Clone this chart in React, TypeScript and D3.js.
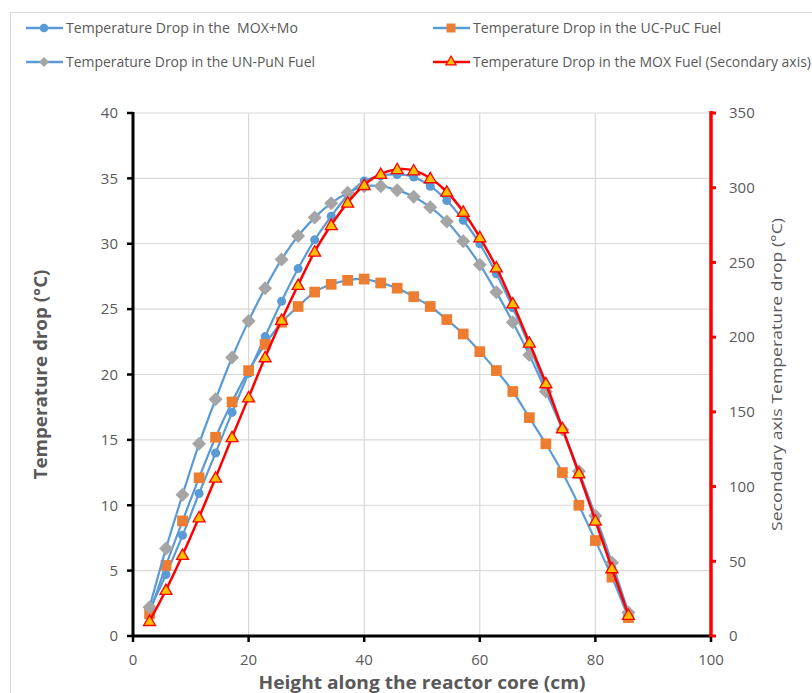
import { useEffect, useRef } from 'react';
import * as d3 from 'd3';

// heights along the core (cm)
const heights = [
  2.86, 5.71, 8.57, 11.43, 14.29, 17.14, 20.0, 22.86, 25.71, 28.57, 31.43, 34.29, 37.14, 40.0, 42.86,
  45.71, 48.57, 51.43, 54.29, 57.14, 60.0, 62.86, 65.71, 68.57, 71.43, 74.29, 77.14, 80.0, 82.86, 85.71,
];

const moxMo = [
  2.0, 4.7, 7.7, 10.9, 14.0, 17.1, 20.1, 22.9, 25.6, 28.1, 30.3, 32.1, 33.7, 34.8, 35.2,
  35.3, 35.1, 34.4, 33.3, 31.8, 30.0, 27.7, 25.1, 22.2, 19.0, 15.8, 12.4, 8.9, 5.2, 1.6,
];

const ucPuc = [
  1.7, 5.4, 8.8, 12.1, 15.2, 17.9, 20.3, 22.3, 24.0, 25.2, 26.3, 26.9, 27.2, 27.3, 27.0,
  26.6, 25.95, 25.2, 24.2, 23.1, 21.75, 20.3, 18.7, 16.7, 14.7, 12.5, 10.0, 7.3, 4.5, 1.4,
];

const unPun = [
  2.2, 6.7, 10.8, 14.7, 18.1, 21.3, 24.1, 26.6, 28.8, 30.6, 32.0, 33.1, 33.9, 34.4, 34.4,
  34.1, 33.6, 32.8, 31.7, 30.2, 28.4, 26.3, 24.0, 21.5, 18.7, 15.8, 12.6, 9.2, 5.6, 1.8,
];

// secondary axis
const mox = [
  10.0, 30.8, 54.2, 79.4, 105.9, 133.0, 159.7, 186.5, 211.5, 234.9, 257.2, 275.0, 290.0, 301.8, 309.2,
  312.4, 311.6, 306.3, 297.3, 283.9, 266.8, 246.7, 222.6, 196.3, 169.1, 139.0, 108.9, 77.2, 45.3, 14.1,
];

const xTicks = [0, 20, 40, 60, 80, 100];
const yTicks = [0, 5, 10, 15, 20, 25, 30, 35, 40];
const y2Ticks = [0, 50, 100, 150, 200, 250, 300, 350];

const legendLabels = [
  'Temperature Drop in the  MOX+Mo',
  'Temperature Drop in the UC-PuC Fuel',
  'Temperature Drop in the UN-PuN Fuel',
  'Temperature Drop in the MOX Fuel (Secondary axis)',
];

const W = 812;
const H = 693;

const App = () => {
  const svgRef = useRef<SVGSVGElement | null>(null);

  useEffect(() => {
    const svg = d3.select(svgRef.current);
    svg.selectAll('*').remove();

    const font = "'Open Sans', 'Liberation Sans', sans-serif";
    const textCol = '#595959';
    const blue = '#5B9BD5';
    const orange = '#ED7D31';
    const gray = '#A5A5A5';
    const red = '#FF0000';
    const yellow = '#FFC000';

    const x = d3.scaleLinear().domain([0, 100]).range([133, 711]);
    const y = d3.scaleLinear().domain([0, 40]).range([636, 113]);
    const y2 = d3.scaleLinear().domain([0, 350]).range([636, 113]);

    // chart area border
    svg
      .append('rect')
      .attr('x', 10.5)
      .attr('y', 12.5)
      .attr('width', W)
      .attr('height', H)
      .attr('fill', '#fff')
      .attr('stroke', '#d9d9d9');

    // grid
    const grid = svg.append('g').attr('stroke', '#d9d9d9').attr('stroke-width', 1.2);
    yTicks.slice(1).forEach((t) => {
      grid.append('line').attr('x1', x(0)).attr('x2', x(100)).attr('y1', y(t)).attr('y2', y(t));
    });
    xTicks.slice(1, -1).forEach((t) => {
      grid.append('line').attr('x1', x(t)).attr('x2', x(t)).attr('y1', y(0)).attr('y2', y(40));
    });

    // axes lines + ticks
    const ax = svg.append('g');
    ax.append('line').attr('x1', x(0)).attr('x2', x(0)).attr('y1', y(40) - 1).attr('y2', y(0) + 1)
      .attr('stroke', '#000').attr('stroke-width', 3);
    yTicks.forEach((t) => {
      ax.append('line').attr('x1', x(0) - 6).attr('x2', x(0)).attr('y1', y(t)).attr('y2', y(t))
        .attr('stroke', '#000').attr('stroke-width', 2.5);
      ax.append('text').attr('x', x(0) - 15).attr('y', y(t)).attr('dy', '0.35em')
        .attr('text-anchor', 'end').attr('fill', textCol).style('font', `15px ${font}`).text(t);
    });
    ax.append('line').attr('x1', x(0)).attr('x2', x(100)).attr('y1', y(0)).attr('y2', y(0))
      .attr('stroke', '#000').attr('stroke-width', 3);
    xTicks.forEach((t) => {
      ax.append('line').attr('x1', x(t)).attr('x2', x(t)).attr('y1', y(0)).attr('y2', y(0) + 6)
        .attr('stroke', '#000').attr('stroke-width', 2.5);
      ax.append('text').attr('x', x(t)).attr('y', y(0) + 24).attr('dy', '0.35em')
        .attr('text-anchor', 'middle').attr('fill', textCol).style('font', `15px ${font}`).text(t);
    });
    ax.append('line').attr('x1', x(100)).attr('x2', x(100)).attr('y1', y2(350) - 2).attr('y2', y2(0) + 1)
      .attr('stroke', red).attr('stroke-width', 3.5);
    y2Ticks.forEach((t) => {
      ax.append('line').attr('x1', x(100)).attr('x2', x(100) + 5).attr('y1', y2(t)).attr('y2', y2(t))
        .attr('stroke', red).attr('stroke-width', 3);
      ax.append('text').attr('x', x(100) + 18).attr('y', y2(t)).attr('dy', '0.35em')
        .attr('text-anchor', 'start').attr('fill', textCol).style('font', `15px ${font}`).text(t);
    });

    // axis titles
    svg.append('text')
      .attr('transform', `translate(41,${(y(0) + y(40)) / 2}) rotate(-90)`)
      .attr('text-anchor', 'middle').attr('dy', '0.35em')
      .attr('fill', textCol).style('font', `bold 17px ${font}`)
      .attr('textLength', 210).attr('lengthAdjust', 'spacingAndGlyphs')
      .text('Temperature drop (°C)');
    svg.append('text')
      .attr('x', (x(0) + x(100)) / 2).attr('y', 683).attr('dy', '0.35em')
      .attr('text-anchor', 'middle').attr('fill', textCol).style('font', `bold 17px ${font}`)
      .attr('textLength', 327).attr('lengthAdjust', 'spacingAndGlyphs')
      .text('Height along the reactor core (cm)');
    svg.append('text')
      .attr('transform', `translate(777,${(y(0) + y(40)) / 2}) rotate(-90)`)
      .attr('text-anchor', 'middle').attr('dy', '0.35em')
      .attr('fill', textCol).style('font', `15px ${font}`)
      .attr('textLength', 313).attr('lengthAdjust', 'spacingAndGlyphs')
      .text('Secondary axis Temperature drop (°C)');

    // marker paths
    const circle = d3.symbol(d3.symbolCircle, 64)();
    const square = d3.symbol(d3.symbolSquare, 115)();
    const diamond = 'M0,-7L7,0L0,7L-7,0Z';
    const triangle = d3.symbol(d3.symbolTriangle, 62)();

    const line = (sc: d3.ScaleLinear<number, number>) =>
      d3.line<number>()
        .x((_, i) => x(heights[i]))
        .y((d) => sc(d))
        .curve(d3.curveCatmullRom);

    const series = [
      { vals: moxMo, sc: y, stroke: blue, width: 2.2, path: circle, fill: blue, mstroke: 'none' },
      { vals: ucPuc, sc: y, stroke: blue, width: 2.2, path: square, fill: orange, mstroke: 'none' },
      { vals: unPun, sc: y, stroke: blue, width: 2.2, path: diamond, fill: gray, mstroke: 'none' },
      { vals: mox, sc: y2, stroke: red, width: 2.5, path: triangle, fill: yellow, mstroke: red },
    ];

    series.forEach((s) => {
      const g = svg.append('g');
      g.append('path')
        .datum(s.vals)
        .attr('fill', 'none')
        .attr('stroke', s.stroke)
        .attr('stroke-width', s.width)
        .attr('d', line(s.sc));
      g.selectAll('path.m')
        .data(s.vals)
        .join('path')
        .attr('class', 'm')
        .attr('d', s.path)
        .attr('transform', (d, i) => `translate(${x(heights[i])},${s.sc(d) + (s.path === triangle ? 1 : 0)})`)
        .attr('fill', s.fill)
        .attr('stroke', s.mstroke)
        .attr('stroke-width', 1.3);
    });

    // legend
    const legendPos = [
      { x: 26, y: 28 },
      { x: 433, y: 28 },
      { x: 26, y: 62 },
      { x: 433, y: 62 },
    ];
    const legendLen = [232, 248, 249, 338];
    const legendSym = [
      { path: d3.symbol(d3.symbolCircle, 60)(), fill: blue, stroke: 'none', line: blue },
      { path: d3.symbol(d3.symbolSquare, 80)(), fill: orange, stroke: 'none', line: blue },
      { path: 'M0,-5L5,0L0,5L-5,0Z', fill: gray, stroke: 'none', line: blue },
      { path: d3.symbol(d3.symbolTriangle, 45)(), fill: yellow, stroke: red, line: red },
    ];
    legendLabels.forEach((lab, i) => {
      const p = legendPos[i];
      const s = legendSym[i];
      const g = svg.append('g').attr('transform', `translate(${p.x},${p.y})`);
      g.append('line').attr('x1', 0).attr('x2', 37).attr('y1', 0).attr('y2', 0)
        .attr('stroke', s.line).attr('stroke-width', 2.5);
      g.append('path').attr('d', s.path).attr('transform', 'translate(18,0)')
        .attr('fill', s.fill).attr('stroke', s.stroke).attr('stroke-width', 1.2);
      g.append('text').attr('x', 40).attr('y', 0).attr('dy', '0.35em')
        .attr('fill', textCol).style('font', `14px ${font}`).style('white-space', 'pre')
        .attr('textLength', legendLen[i]).attr('lengthAdjust', 'spacingAndGlyphs')
        .text(lab);
    });
  }, []);

  return (
    <svg
      ref={svgRef}
      width={W}
      height={H}
      style={{ position: 'absolute', left: 0, top: 0, background: '#fff' }}
    ></svg>
  );
};

export default App;
